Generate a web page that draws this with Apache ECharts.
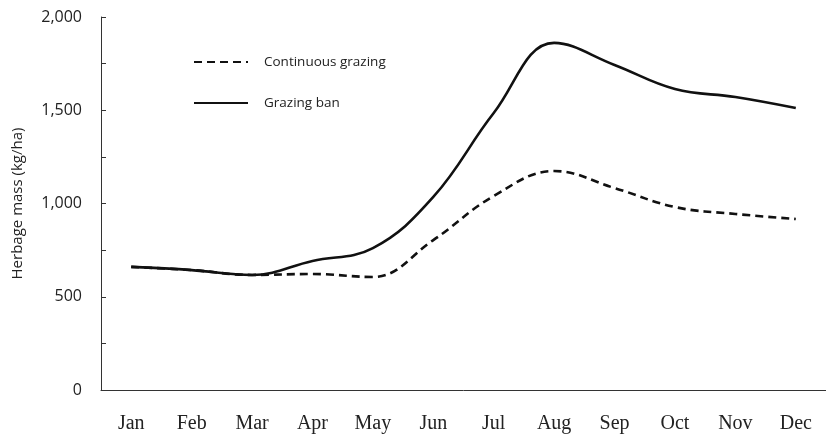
<!DOCTYPE html>
<html lang="en">
<head>
  <meta charset="UTF-8">
  <title>Herbage mass by month</title>
  <script src="https://cdn.jsdelivr.net/npm/echarts@6/dist/echarts.min.js"></script>
  <style>
    html, body { margin: 0; padding: 0; background: #fff; }
    #chart { width: 826px; height: 434px; }
  </style>
</head>
<body>
<div id="chart"></div>
<script>
    // months on the x axis
    const months = ['Jan', 'Feb', 'Mar', 'Apr', 'May', 'Jun', 'Jul', 'Aug', 'Sep', 'Oct', 'Nov', 'Dec'];
    // herbage mass (kg/ha)
    const continuousGrazing = [660, 643, 617, 622, 606, 804, 1040, 1174, 1083, 981, 944, 917];
    const grazingBan = [660, 643, 617, 692, 761, 1035, 1485, 1861, 1743, 1614, 1571, 1512];
    const seriesNames = ['Continuous grazing', 'Grazing ban'];

    const chart = echarts.init(document.getElementById('chart'));

    const options = {
        animation: false,
        backgroundColor: '#fff',
        grid: { left: 101, right: 0, top: 17, bottom: 44 },
        legend: {
            orient: 'vertical',
            left: 193,
            top: 55,
            padding: 0,
            itemWidth: 54,
            itemHeight: 14,
            itemGap: 27,
            data: seriesNames,
            itemStyle: { opacity: 0 },
            textStyle: {
                fontFamily: 'Open Sans',
                fontSize: 13.5,
                color: '#222',
                padding: [0, 0, 0, 11]
            }
        },
        xAxis: {
            type: 'category',
            data: months,
            boundaryGap: true,
            axisLine: { lineStyle: { color: '#333', width: 1 } },
            axisTick: { inside: true, length: 6, interval: 0, lineStyle: { color: '#333' } },
            axisLabel: {
                interval: 0,
                margin: 24,
                fontFamily: 'Liberation Serif',
                fontSize: 20,
                color: '#222'
            },
            splitLine: { show: false }
        },
        yAxis: {
            type: 'value',
            min: 0,
            max: 2000,
            interval: 250,
            name: 'Herbage mass (kg/ha)',
            nameLocation: 'middle',
            nameGap: 76,
            nameTextStyle: { fontFamily: 'Open Sans', fontSize: 15, color: '#222' },
            axisLine: { show: true, lineStyle: { color: '#333', width: 1 } },
            axisTick: { show: true, inside: true, length: 5, lineStyle: { color: '#333' } },
            axisLabel: {
                margin: 19,
                fontFamily: 'Open Sans',
                fontSize: 16,
                color: '#222',
                formatter: v => (v % 500 === 0 ? v.toLocaleString('en-US') : '')
            },
            splitLine: { show: false }
        },
        series: [
            {
                name: seriesNames[0],
                type: 'line',
                data: continuousGrazing,
                smooth: 0.4,
                symbol: 'none',
                lineStyle: { color: '#111', width: 2.6, type: [8, 5] },
                itemStyle: { color: '#111' }
            },
            {
                name: seriesNames[1],
                type: 'line',
                data: grazingBan,
                smooth: 0.4,
                symbol: 'none',
                lineStyle: { color: '#111', width: 2.6 },
                itemStyle: { color: '#111' }
            }
        ]
    };

    chart.setOption(options);
</script>
</body>
</html>
